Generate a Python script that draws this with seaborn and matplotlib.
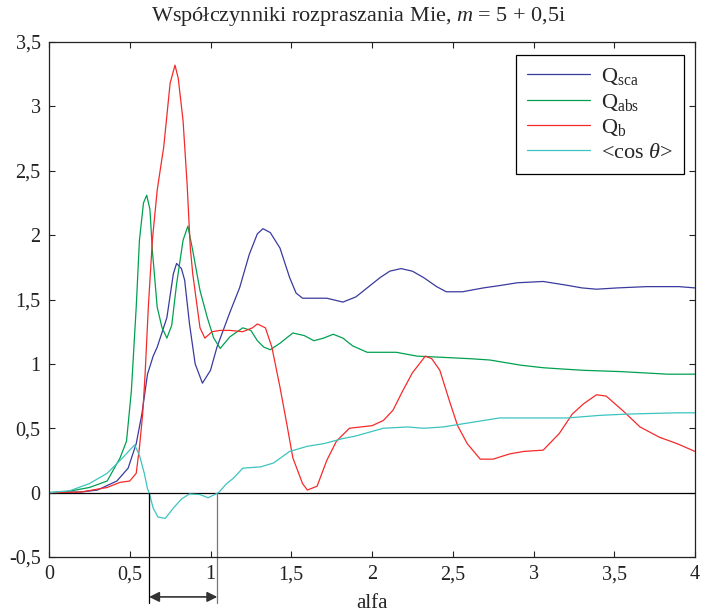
import matplotlib
matplotlib.use("Agg")
import matplotlib.pyplot as plt
import seaborn as sns
import numpy as np

# ---- data ----
x_sca = [0, 0.2, 0.3, 0.42, 0.49, 0.54, 0.575, 0.61, 0.645, 0.67, 0.73, 0.77, 0.79, 0.82, 0.84, 0.87,
         0.905, 0.95, 1.0, 1.04, 1.12, 1.18, 1.24, 1.29, 1.325, 1.37, 1.43, 1.49, 1.53, 1.57, 1.65,
         1.72, 1.82, 1.90, 1.97, 2.05, 2.11, 2.18, 2.25, 2.32, 2.40, 2.46, 2.56, 2.69, 2.80, 2.90,
         3.06, 3.21, 3.30, 3.39, 3.52, 3.70, 3.90, 4.0]
q_sca = [0, 0.005, 0.02, 0.09, 0.19, 0.38, 0.61, 0.92, 1.06, 1.13, 1.36, 1.70, 1.78, 1.74, 1.65, 1.31,
         1.0, 0.85, 0.95, 1.13, 1.40, 1.59, 1.85, 2.01, 2.05, 2.02, 1.90, 1.67, 1.55, 1.51, 1.51,
         1.51, 1.48, 1.52, 1.59, 1.67, 1.72, 1.74, 1.72, 1.67, 1.60, 1.56, 1.56, 1.59, 1.61, 1.63,
         1.64, 1.61, 1.59, 1.58, 1.59, 1.60, 1.60, 1.59]

x_abs = [0, 0.1, 0.25, 0.36, 0.44, 0.48, 0.51, 0.54, 0.56, 0.585, 0.605, 0.625, 0.64, 0.67, 0.70,
         0.73, 0.76, 0.79, 0.83, 0.86, 0.89, 0.935, 0.98, 1.02, 1.06, 1.12, 1.20, 1.25, 1.29, 1.33,
         1.37, 1.43, 1.51, 1.58, 1.64, 1.70, 1.76, 1.82, 1.88, 1.97, 2.15, 2.28, 2.45, 2.61, 2.73,
         2.92, 3.06, 3.18, 3.31, 3.54, 3.83, 4.0]
q_abs = [0, 0.005, 0.04, 0.09, 0.27, 0.40, 0.79, 1.44, 1.96, 2.25, 2.31, 2.20, 1.88, 1.44, 1.28,
         1.20, 1.30, 1.62, 1.96, 2.07, 1.88, 1.57, 1.36, 1.20, 1.12, 1.21, 1.28, 1.26, 1.18, 1.13,
         1.11, 1.16, 1.24, 1.22, 1.18, 1.20, 1.23, 1.20, 1.14, 1.09, 1.09, 1.06, 1.05, 1.04, 1.03,
         0.99, 0.97, 0.96, 0.95, 0.94, 0.92, 0.92]

x_b = [0, 0.2, 0.36, 0.44, 0.50, 0.54, 0.56, 0.58, 0.595, 0.615, 0.64, 0.67, 0.70, 0.71, 0.75, 0.78,
       0.80, 0.83, 0.855, 0.875, 0.89, 0.935, 0.965, 1.01, 1.06, 1.12, 1.20, 1.26, 1.29, 1.34, 1.38,
       1.43, 1.47, 1.51, 1.57, 1.60, 1.66, 1.72, 1.78, 1.86, 2.0, 2.07, 2.13, 2.19, 2.25, 2.33, 2.37,
       2.42, 2.48, 2.53, 2.59, 2.67, 2.75, 2.85, 2.94, 3.06, 3.16, 3.24, 3.31, 3.39, 3.45, 3.55,
       3.66, 3.78, 3.89, 4.0]
q_b = [0, 0.005, 0.04, 0.08, 0.09, 0.15, 0.35, 0.61, 0.92, 1.44, 1.96, 2.35, 2.60, 2.68, 3.18, 3.32,
       3.22, 2.89, 2.40, 1.90, 1.70, 1.28, 1.20, 1.25, 1.26, 1.26, 1.25, 1.28, 1.31, 1.28, 1.13,
       0.82, 0.55, 0.27, 0.07, 0.02, 0.05, 0.25, 0.40, 0.50, 0.52, 0.56, 0.64, 0.79, 0.93, 1.06, 1.04,
       0.95, 0.71, 0.52, 0.38, 0.26, 0.26, 0.30, 0.32, 0.33, 0.46, 0.61, 0.69, 0.76, 0.75, 0.64,
       0.51, 0.43, 0.38, 0.32]

x_cos = [0, 0.13, 0.25, 0.36, 0.44, 0.50, 0.53, 0.56, 0.59, 0.61, 0.62, 0.645, 0.675, 0.72, 0.77,
         0.82, 0.87, 0.935, 0.985, 1.05, 1.10, 1.14, 1.20, 1.31, 1.39, 1.49, 1.60, 1.70, 1.82, 1.90,
         2.07, 2.22, 2.32, 2.44, 2.59, 2.79, 3.21, 3.41, 3.58, 3.89, 4.0]
q_cos = [0, 0.015, 0.07, 0.15, 0.25, 0.33, 0.37, 0.29, 0.15, 0.03, 0.0, -0.12, -0.19, -0.20, -0.12,
         -0.05, -0.01, -0.015, -0.04, 0.0, 0.07, 0.11, 0.19, 0.20, 0.23, 0.32, 0.36, 0.38, 0.42, 0.44,
         0.50, 0.51, 0.50, 0.51, 0.54, 0.58, 0.58, 0.60, 0.61, 0.62, 0.62]

xticks = [0, 0.5, 1, 1.5, 2, 2.5, 3, 3.5, 4]
xtick_labels = ["0", "0,5", "1", "1,5", "2", "2,5", "3", "3,5", "4"]
yticks = [-0.5, 0, 0.5, 1, 1.5, 2, 2.5, 3, 3.5]
ytick_labels = ["-0,5", "0", "0,5", "1", "1,5", "2", "2,5", "3", "3,5"]

labels = [r"Q$_{\mathrm{sca}}$", r"Q$_{\mathrm{abs}}$", r"Q$_{\mathrm{b}}$",
          r"<cos $\theta$>"]
colors = ["#3a3a9e", "#00a050", "#f52a2a", "#3cc4c0"]
title = r"Współczynniki rozpraszania Mie, $m$ = 5 + 0,5i"
xlabel = "alfa"
band = [0.62, 1.042]

# ---- style ----
sns.set_style("ticks")
plt.rcParams["font.family"] = ["Liberation Serif", "DejaVu Serif"]
plt.rcParams["mathtext.fontset"] = "custom"
plt.rcParams["mathtext.rm"] = "Liberation Serif"
plt.rcParams["mathtext.it"] = "Liberation Serif:italic"
plt.rcParams["mathtext.bf"] = "Liberation Serif:bold"

fig = plt.figure(figsize=(7.03, 6.14), dpi=100)
ax = fig.add_axes([49 / 703, 1 - 557 / 614, 646 / 703, 515 / 614])

series = [(x_sca, q_sca), (x_abs, q_abs), (x_b, q_b), (x_cos, q_cos)]
for (xs, ys), lab, col in zip(series, labels, colors):
    sns.lineplot(x=xs, y=ys, ax=ax, color=col, linewidth=0.9, label=lab,
                 sort=False, estimator=None)

ax.axhline(0, color="black", linewidth=0.9, zorder=1)

ax.set_xlim(0, 4)
ax.set_ylim(-0.5, 3.5)
ax.set_xticks(xticks)
ax.set_xticklabels(xtick_labels)
ax.set_yticks(yticks)
ax.set_yticklabels(ytick_labels)
ax.tick_params(direction="in", top=True, right=True, length=4, width=0.8,
               labelsize=14.5, pad=6, colors="#222222")
for sp in ax.spines.values():
    sp.set_linewidth(0.9)
    sp.set_color("#222222")
    sp.set_visible(True)

ax.set_title(title, fontsize=16, pad=15, x=0.48)
ax.set_xlabel(xlabel, fontsize=15, labelpad=7)
ax.set_ylabel("")

leg = ax.legend(loc="upper right", bbox_to_anchor=(1 - 11 / 646, 1 - 13 / 515),
                borderaxespad=0, fontsize=16, frameon=True, fancybox=False,
                handlelength=2.8, handletextpad=0.5, labelspacing=0.2,
                borderpad=0.5)
leg.get_frame().set_edgecolor("black")
leg.get_frame().set_linewidth(0.9)
leg.get_frame().set_alpha(1)

# band annotation below the axis
for bx, bc in zip(band, ["black", "#777777"]):
    ax.plot([bx, bx], [0, -0.855], color=bc, linewidth=0.9, clip_on=False)
ax.annotate("", xy=(band[0], -0.81), xytext=(band[1], -0.81),
            arrowprops=dict(arrowstyle="<|-|>", color="#333333", lw=1.2,
                            mutation_scale=15, shrinkA=0, shrinkB=0),
            annotation_clip=False)

fig.savefig("out.png", dpi=100)
